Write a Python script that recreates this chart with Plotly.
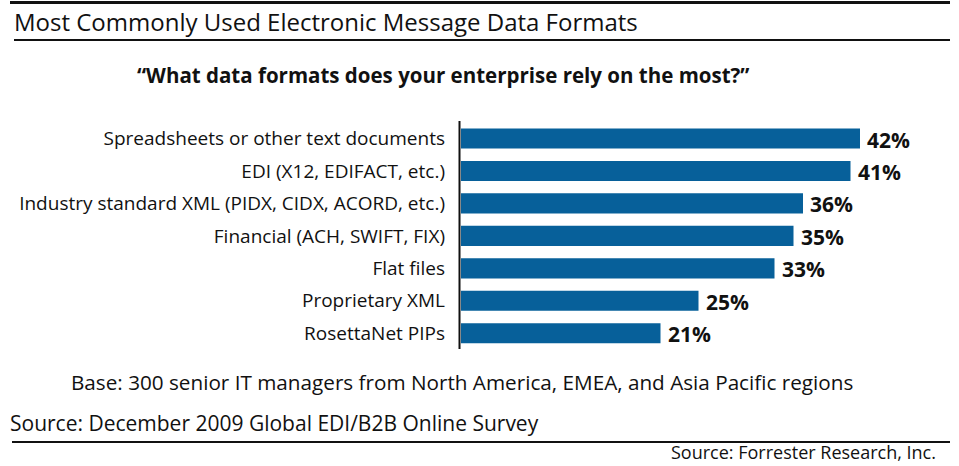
import plotly.graph_objects as go

categories = [
    "Spreadsheets or other text documents",
    "EDI (X12, EDIFACT, etc.)",
    "Industry standard XML (PIDX, CIDX, ACORD, etc.)",
    "Financial (ACH, SWIFT, FIX)",
    "Flat files",
    "Proprietary XML",
    "RosettaNet PIPs",
]
values = [42, 41, 36, 35, 33, 25, 21]
value_labels = [f"{v}%" for v in values]

title_text = "Most Commonly Used Electronic Message Data Formats"
question_text = "\u201cWhat data formats does your enterprise rely on the most?\u201d"
base_text = "Base: 300 senior IT managers from North America, EMEA, and Asia Pacific regions"
source_text = "Source: December 2009 Global EDI/B2B Online Survey"
credit_text = "Source: Forrester Research, Inc."

W, H = 959, 466
FONT = "Open Sans"
BAR_COLOR = "#07609a"
INK = "#111111"

def px(x):
    return x / W

def py(y):
    return 1 - y / H

fig = go.Figure(
    go.Bar(
        x=values,
        y=categories,
        orientation="h",
        marker=dict(color=BAR_COLOR, line=dict(width=0)),
        cliponaxis=False,
        hoverinfo="skip",
    )
)

fig.update_layout(
    width=W,
    height=H,
    margin=dict(l=0, r=0, t=0, b=0),
    paper_bgcolor="white",
    plot_bgcolor="white",
    showlegend=False,
    bargap=0.38,
    font=dict(family=FONT, color=INK),
    xaxis=dict(
        range=[0, 50],
        domain=[px(461), px(936)],
        showgrid=False,
        zeroline=False,
        showline=False,
        showticklabels=False,
        ticks="",
    ),
    yaxis=dict(
        categoryorder="array",
        categoryarray=categories,
        autorange="reversed",
        domain=[py(349.5), py(121.5)],
        showgrid=False,
        zeroline=False,
        showline=False,
        ticks="",
        ticklabelstandoff=15,
        tickfont=dict(family=FONT, size=19, color=INK),
    ),
)

shapes = [
    dict(type="line", xref="paper", yref="paper", x0=px(10), x1=px(950), y0=py(2.5), y1=py(2.5),
         line=dict(color=INK, width=3)),
    dict(type="line", xref="paper", yref="paper", x0=px(14), x1=px(950), y0=py(40), y1=py(40),
         line=dict(color=INK, width=2)),
    dict(type="line", xref="paper", yref="paper", x0=px(12), x1=px(950), y0=py(442), y1=py(442),
         line=dict(color=INK, width=2)),
    dict(type="line", xref="paper", yref="paper", x0=px(459.5), x1=px(459.5), y0=py(121), y1=py(349),
         line=dict(color=INK, width=2)),
]
fig.update_layout(shapes=shapes)

annotations = [
    dict(text=title_text, x=px(12), y=py(22), xanchor="left", yanchor="middle",
         font=dict(family=FONT, size=24, color=INK)),
    dict(text=question_text, x=px(443), y=py(75), xanchor="center", yanchor="middle",
         font=dict(family=FONT, size=20.5, color=INK, weight="bold")),
    dict(text=base_text, x=px(462), y=py(382), xanchor="center", yanchor="middle",
         font=dict(family=FONT, size=20.7, color=INK)),
    dict(text=source_text, x=px(8), y=py(423), xanchor="left", yanchor="middle",
         font=dict(family=FONT, size=21, color=INK)),
    dict(text=credit_text, x=px(938), y=py(465.5), xanchor="right", yanchor="bottom",
         font=dict(family=FONT, size=18, color=INK)),
]
for a in annotations:
    a.update(xref="paper", yref="paper", showarrow=False)

for v, cat, lab in zip(values, categories, value_labels):
    annotations.append(dict(
        text=lab, x=v, y=cat, xref="x", yref="y", xanchor="left", yanchor="middle",
        xshift=5, yshift=-1, showarrow=False,
        font=dict(family=FONT, size=21, color=INK, weight="bold"),
    ))
fig.update_layout(annotations=annotations)

fig.write_html("out.html")
